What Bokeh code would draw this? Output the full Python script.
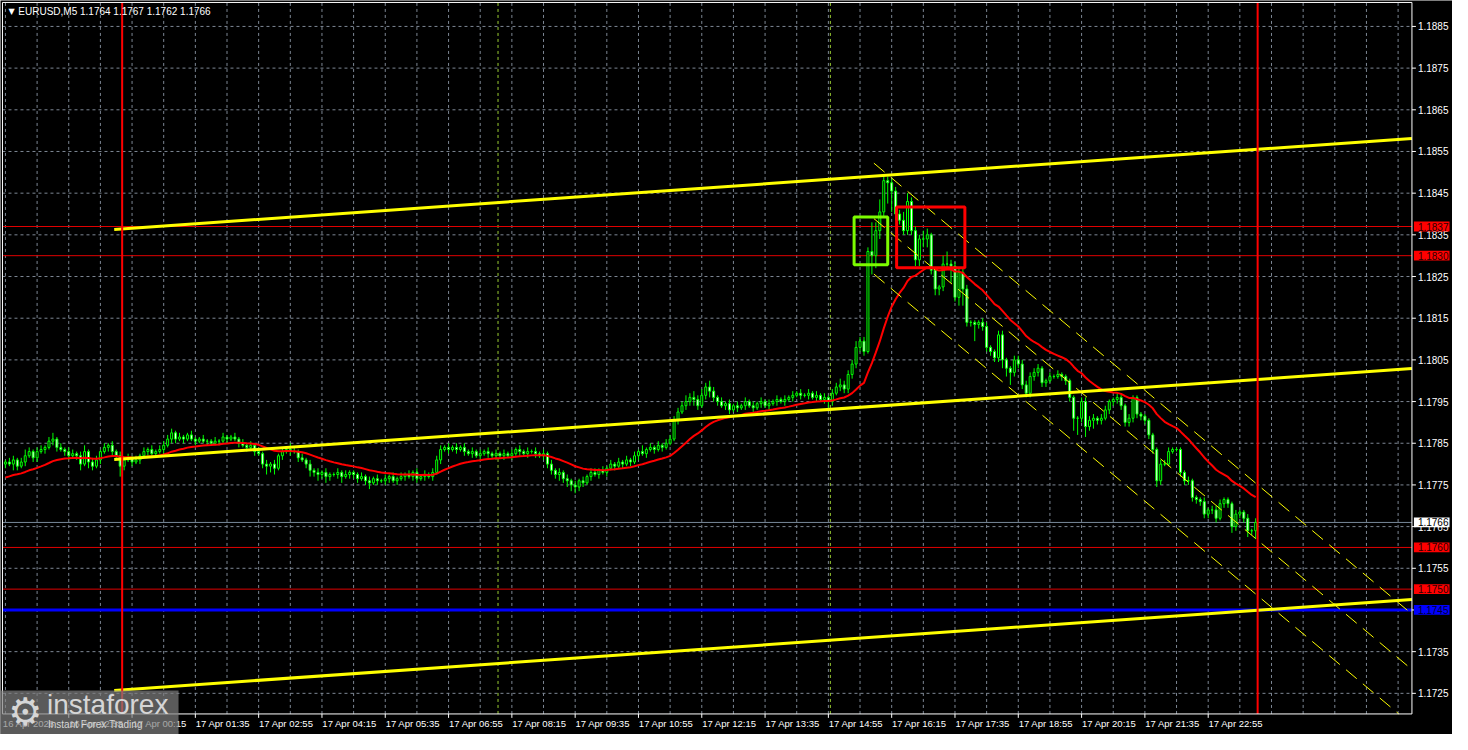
from bokeh.plotting import figure
from bokeh.models import Range1d, ColumnDataSource
from bokeh.core.properties import value
from bokeh.embed import file_html
from bokeh.resources import INLINE

# ---------------- data (prices in pips above 1.1700) ----------------
symbol_title = "EURUSD,M5"
last_ohlc = ["1.1764", "1.1767", "1.1762", "1.1766"]
base_price = 1.1700
last_bar = 287            # bar index of 17 Apr 23:55 (0 = 17 Apr 00:00)
first_open_pips = 80.0

closes_pips = [
    80.5, 80, 81, 79.5, 80.5, 82, 83, 81.5, 83, 83.5,
    84, 85.5, 86, 84, 83.5, 83, 82, 82.5, 82, 80,
    83, 80.5, 79.5, 81, 83, 84, 84.5, 83, 82,
    79.5, 81, 81.5, 80.5, 81, 82, 83, 83.5, 82.5, 83,
    83.5, 84.5, 86, 87.5, 86, 86.5, 86, 87, 86, 85.5,
    86, 85.5, 85.5, 85, 85.5, 85.5, 86.5, 86, 86.5, 86,
    85, 84.5, 84, 84.5, 83, 82.5, 80, 79.5, 80, 79,
    82, 83, 83.5, 83, 83, 81.5, 81, 80, 78.5, 78,
    77.5, 78, 77, 77.5, 77.5, 78, 77, 77.5, 78, 77.5,
    76.5, 77, 76, 75.5, 76.5, 76, 76, 76.5, 77, 76,
    76.5, 77, 77.5, 77, 78, 76.5, 77, 77.5, 77, 78,
    81, 83.5, 84, 83.5, 84, 83.5, 84, 83, 82.5, 83,
    82, 82.5, 83, 82.5, 82, 82.5, 82, 82.5, 82, 82.5,
    83.5, 83, 82.5, 83, 83, 82.5, 82, 82.5, 80, 78.5,
    77.5, 78, 76.5, 76, 75, 74.5, 76, 75.5, 77, 78,
    77.5, 78.5, 78, 79, 80, 79.5, 80.5, 80, 81, 80.5,
    82, 83, 82.5, 83.5, 84, 83.5, 84.5, 84, 85, 86,
    90.5, 92.5, 94, 95, 96, 95.5, 94, 96.5, 98.5, 97.5,
    96, 95, 94, 94.5, 93, 94, 93.5, 94, 95, 94,
    93.5, 94.5, 95, 94, 94.5, 95, 95.5, 95, 95.5, 96,
    96.5, 97, 96.5, 96.5, 97, 96, 96.5, 95.5, 96, 95,
    97, 98.5, 99, 98, 101.5,
    104, 108, 109.5, 107, 131, 130, 136, 140.5, 148, 147.5,
    145.5, 140, 138.5, 136, 143, 136, 129, 134, 134, 135,
    126.5, 122, 122.5, 128, 128, 127.5, 120, 126, 122, 114,
    114, 113.5, 114, 113, 108, 107, 105.5, 111, 105, 103,
    102, 105, 104,
    99, 97, 101, 102, 103, 99.5, 100, 101, 101, 101.5,
    101, 100, 96, 91, 91, 95, 89, 90.5, 91, 90.5,
    91, 93, 95, 95.5, 96, 94, 90, 91, 96, 92,
    91.5, 90.5, 87, 83.5, 76, 80, 80, 83, 83.5, 83.5,
    78, 76, 76, 72, 71.5, 71, 68, 69, 69, 67,
    70.5, 71.5, 70.5, 65, 68, 68.5, 67, 64, 64, 66,
]

up_wick_pips = [
    0.5, 1, 1, 0.5, 1, 1.5, 1, 0.5, 1, 1,
    0.5, 1, 1.5, 0.5, 1, 0.5, 1, 1, 0.5, 1,
    1.5, 0.5, 1, 1, 0.5, 1, 0.5, 1, 0.5,
    1, 0.5, 1, 0.5, 1, 0.5, 1, 0.5, 1, 0.5,
    1, 1, 1, 1, 0.5, 1, 0.5, 0.5, 1, 0.5,
    0.5, 1, 0.5, 0.5, 1, 0.5, 1, 0.5, 0.5, 1,
    0.5, 1, 0.5, 1, 0.5, 1, 0.5, 1, 0.5, 1,
    0.5, 1, 0.5, 1.5, 1, 0.5, 1, 0.5, 1, 0.5,
    1, 0.5, 1, 0.5, 0.5, 1, 0.5, 1, 0.5, 0.5,
    0.5, 1, 0.5, 1, 0.5, 1, 0.5, 1, 0.5, 1,
    0.5, 1, 0.5, 1, 0.5, 1, 0.5, 1, 0.5, 1,
    1, 1, 0.5, 1, 0.5, 1, 0.5, 1, 0.5, 1,
    0.5, 1, 0.5, 1, 0.5, 1, 0.5, 1, 0.5, 1,
    0.5, 1, 0.5, 1, 0.5, 1, 0.5, 1, 0.5, 1,
    0.5, 1, 0.5, 1, 0.5, 1, 0.5, 1, 0.5, 1,
    1, 0.5, 1, 0.5, 1, 0.5, 1, 0.5, 1, 0.5,
    1, 0.5, 1.5, 0.5, 1, 0.5, 1, 0.5, 1, 1,
    1, 1, 1, 1.5, 1, 1.5, 1, 1.5, 1, 1.5,
    1, 0.5, 1, 0.5, 1, 0.5, 1, 0.5, 1, 0.5,
    1, 0.5, 1, 0.5, 1, 0.5, 1, 0.5, 1, 0.5,
    1, 0.5, 1, 0.5, 1, 0.5, 1, 0.5, 1, 0.5,
    1, 1, 1.5, 1, 1,
    1, 1.5, 1, 1, 1, 7, 2, 3, 1.5, 1,
    1, 1, 1, 2, 2, 1, 1, 1, 2, 1.5,
    0.5, 0.5, 0.5, 2, 3, 1, 1, 1, 1, 1,
    0.5, 0.5, 0.5, 1, 1, 0.5, 0.5, 1, 1, 0.5,
    0.5, 1, 1,
    1, 1, 1, 1, 1, 0.5, 0.5, 1, 0.5, 1,
    0.5, 0.5, 0.5, 0.5, 0.5, 1, 1, 1, 1, 0.5,
    1, 1, 0.5, 0.5, 1, 1, 0.5, 1, 0.5, 0.5,
    0.5, 0.5, 0.5, 0.5, 0.5, 1, 1, 1, 0.5, 0.5,
    0.5, 0.5, 1, 0.5, 0.5, 0.5, 1, 0.5, 1, 1,
    1, 0.5, 0.5, 0.5, 1, 0.5, 0.5, 1, 0.5, 1,
]

down_wick_pips = [
    1, 0.5, 1.5, 1, 0.5, 1, 0.5, 1, 1, 0.5,
    1, 0.5, 1, 1, 0.5, 1, 1, 0.5, 1, 1.5,
    0.5, 1.5, 1, 0.5, 1, 0.5, 1, 1, 1,
    2.5, 1, 0.5, 1, 0.5, 1, 0.5, 1, 0.5, 1,
    0.5, 1, 0.5, 1, 1, 0.5, 1, 0.5, 0.5, 1,
    0.5, 0.5, 1, 0.5, 0.5, 1, 0.5, 1, 0.5, 0.5,
    1, 0.5, 1, 0.5, 1, 0.5, 1, 2, 1.5, 1.5,
    0.5, 1, 0.5, 1, 0.5, 1, 0.5, 1, 1.5, 1,
    1.5, 1, 1.5, 1, 0.5, 1, 1.5, 0.5, 1, 1,
    1, 0.5, 1, 1.5, 0.5, 1, 0.5, 1, 1, 0.5,
    1, 0.5, 1, 0.5, 1, 1, 0.5, 1, 0.5, 1,
    0.5, 1, 0.5, 1, 0.5, 1, 0.5, 1, 0.5, 1,
    0.5, 1, 0.5, 1, 0.5, 1, 0.5, 1, 0.5, 1,
    0.5, 1, 0.5, 1, 0.5, 1, 0.5, 1, 1, 1,
    1, 1.5, 1, 1.5, 1.5, 1.5, 1, 1, 0.5, 1,
    0.5, 1, 0.5, 1, 0.5, 1, 0.5, 1, 0.5, 1,
    0.5, 1, 0.5, 1, 0.5, 1, 0.5, 1, 0.5, 0.5,
    0.5, 1, 0.5, 1, 1, 1.5, 1, 0.5, 1, 1.5,
    1, 1, 0.5, 1, 1, 0.5, 1, 0.5, 1, 0.5,
    1, 0.5, 1, 0.5, 1, 0.5, 1, 0.5, 1, 0.5,
    1, 0.5, 1, 0.5, 1, 0.5, 1, 0.5, 1, 1.5,
    1, 0.5, 1, 1, 1,
    1, 1, 1, 1, 0.5, 4.5, 3, 2, 1, 5,
    5, 1.5, 1, 1, 1, 1, 1.5, 1.5, 2, 2,
    1, 1.5, 1.5, 1, 1, 4, 1, 2, 4, 1,
    1, 4, 1, 1, 1, 1, 1, 1, 2, 2,
    3, 1, 1,
    1, 1, 1, 1, 1, 1, 1, 0.5, 0.5, 0.5,
    1, 1, 1, 3, 4, 1, 2.5, 1, 2, 1,
    1, 0.5, 1, 1, 1, 1, 1, 1, 1, 1,
    1, 1, 1, 1, 1.5, 1, 0.5, 0.5, 0.5, 0.5,
    1, 1, 1, 1, 1, 1, 1, 1, 1, 1,
    0.5, 1, 1, 1.5, 1, 1, 1, 1.5, 1, 2,
]

ma_start_pips = 76.8      # moving average value at the left edge
ma_period = 24            # exponential MA

price_ticks = [1.1725, 1.1735, 1.1745, 1.1755, 1.1765, 1.1775, 1.1785, 1.1795,
               1.1805, 1.1815, 1.1825, 1.1835, 1.1845, 1.1855, 1.1865, 1.1875, 1.1885]
time_labels = ["16 Apr 2026", "16 Apr 22:55", "17 Apr 00:15", "17 Apr 01:35", "17 Apr 02:55",
               "17 Apr 04:15", "17 Apr 05:35", "17 Apr 06:55", "17 Apr 08:15", "17 Apr 09:35",
               "17 Apr 10:55", "17 Apr 12:15", "17 Apr 13:35", "17 Apr 14:55", "17 Apr 16:15",
               "17 Apr 17:35", "17 Apr 18:55", "17 Apr 20:15", "17 Apr 21:35", "17 Apr 22:55"]

red_levels = [1.1837, 1.1830, 1.1760, 1.1750]
blue_level = 1.1745
current_price = 1.1766

# ---------------- layout helpers (reference pixel -> data) ----------------
def bx(refx):                 # bar coordinate of a reference x pixel
    return (refx - 121) / 4.0

def py(refy):                 # price of a reference y pixel
    return 1.1885 - (refy - 26.5) / 42590.0

def pr(p):
    return base_price + p / 10000.0

CX0, CX1 = bx(2), bx(1427)    # chart area
CY0, CY1 = py(729), py(2)

def clip_seg(x0, y0, x1, y1):
    t0, t1 = 0.0, 1.0
    dx, dy = x1 - x0, y1 - y0
    for pp, qq in ((-dx, x0 - CX0), (dx, CX1 - x0), (-dy, y0 - CY0), (dy, CY1 - y0)):
        if pp == 0:
            if qq < 0:
                return None
            continue
        r = qq / pp
        if pp < 0:
            t0 = max(t0, r)
        else:
            t1 = min(t1, r)
    if t0 > t1:
        return None
    return x0 + t0 * dx, y0 + t0 * dy, x0 + t1 * dx, y0 + t1 * dy

# ---------------- derived series ----------------
n = min(len(closes_pips), len(up_wick_pips), len(down_wick_pips))
closes = closes_pips[:n]
xs = [last_bar - (n - 1) + k for k in range(n)]
opens = [first_open_pips] + closes[:-1]
highs = [max(o, c) + u for o, c, u in zip(opens, closes, up_wick_pips[:n])]
lows = [min(o, c) - d for o, c, d in zip(opens, closes, down_wick_pips[:n])]
fills = ["white" if c < o else "black" for o, c in zip(opens, closes)]

src = ColumnDataSource(dict(
    x=xs,
    top=[pr(max(o, c)) for o, c in zip(opens, closes)],
    bottom=[pr(min(o, c)) for o, c in zip(opens, closes)],
    high=[pr(h) for h in highs],
    low=[pr(l) for l in lows],
    fill=fills,
))

alpha = 2.0 / (ma_period + 1)
ema = [ma_start_pips]
for c in closes[1:]:
    ema.append(ema[-1] + alpha * (c - ema[-1]))

# ---------------- figure ----------------
p = figure(width=1452, height=734, x_range=Range1d(bx(0), bx(1468)),
           y_range=Range1d(py(750), py(0)),
           x_axis_location=None, y_axis_location=None,
           output_backend="svg", toolbar_location=None,
           background_fill_color="black", border_fill_color="black",
           min_border=0, outline_line_color=None)
p.grid.visible = False

FONT = value("Liberation Sans")
GRID = "#7d8794"

# grid
gx = [3 + 8 * k for k in range(-4, 41) if CX0 < 3 + 8 * k < CX1]
p.segment(x0=gx, y0=[CY0] * len(gx), x1=gx, y1=[CY1] * len(gx),
          line_color=GRID, line_dash="3 3", line_width=1)
p.segment(x0=[CX0] * len(price_ticks), y0=price_ticks, x1=[CX1] * len(price_ticks),
          y1=price_ticks, line_color=GRID, line_dash="3 3", line_width=1)

# session marker lines (08:00 and 15:00)
for xv in (95.5, 179.5):
    p.segment(x0=[xv], y0=[CY0], x1=[xv], y1=[CY1], line_color="#9acd32",
              line_dash="3 3", line_width=1)

# horizontal levels
for lv in red_levels:
    p.segment(x0=[CX0], y0=[lv], x1=[CX1], y1=[lv], line_color="#e00000", line_width=1)
p.segment(x0=[CX0], y0=[current_price], x1=[CX1], y1=[current_price],
          line_color="#778899", line_width=1)
p.segment(x0=[CX0], y0=[blue_level], x1=[CX1], y1=[blue_level],
          line_color="#0000ff", line_width=3)

# candles
p.segment(x0="x", y0="high", x1="x", y1="low", source=src, line_color="#00ff00", line_width=1)
p.vbar(x="x", top="top", bottom="bottom", width=0.5, source=src,
       fill_color="fill", line_color="#00ff00", line_width=1)

# moving average
p.line(xs, [pr(v) for v in ema], line_color="#ff0000", line_width=2)

# rising trend channel (thick yellow)
t_start, t_slope = -1.5, 0.0665
for lvl in (136.3, 81.1, 25.7):
    s = clip_seg(t_start, pr(lvl), CX1, pr(lvl + t_slope * (CX1 - t_start)))
    if s:
        p.line([s[0], s[2]], [s[1], s[3]], line_color="#ffff00", line_width=3)

# falling regression channel (thin dashed yellow)
r_start, r_slope, r_mid, r_half = 190.5, -0.7955, 138.9, 13.3
for off in (r_half, 0, -r_half):
    s = clip_seg(r_start, pr(r_mid + off), CX1, pr(r_mid + off + r_slope * (CX1 - r_start)))
    if s:
        p.line([s[0], s[2]], [s[1], s[3]], line_color="#ffff00", line_width=1,
               line_dash="14 8")

# signal boxes
p.quad(left=[185.5], right=[194.0], bottom=[pr(127.8)], top=[pr(139.3)],
       fill_alpha=0, line_color="#7cfc00", line_width=3)
p.quad(left=[196.25], right=[213.5], bottom=[pr(127.1)], top=[pr(141.7)],
       fill_alpha=0, line_color="#ff0000", line_width=3)

# day separators
for xv in (0.5, 287.5):
    p.segment(x0=[xv], y0=[CY0], x1=[xv], y1=[CY1], line_color="#ff0000", line_width=2)

# chart frame
p.line([CX0, CX1, CX1, CX0, CX0], [CY0, CY0, CY1, CY1, CY0], line_color="white", line_width=1)

# time scale
tick_x = [CX0] + [-13 + 16 * k for k in range(19)]
p.segment(x0=tick_x[1:], y0=[CY0] * (len(tick_x) - 1), x1=tick_x[1:],
          y1=[py(733)] * (len(tick_x) - 1), line_color="white", line_width=1)
p.text(x=[t + 0.1 for t in tick_x], y=[py(739)] * len(tick_x), text=time_labels,
       text_font=FONT, text_font_size=value("9.5px"), text_color="white",
       text_align="left", text_baseline="middle")

# price scale
p.segment(x0=[CX1] * len(price_ticks), y0=price_ticks, x1=[bx(1431)] * len(price_ticks),
          y1=price_ticks, line_color="white", line_width=1)
p.text(x=[bx(1433)] * len(price_ticks), y=price_ticks,
       text=[f"{t:.4f}" for t in price_ticks],
       text_font=FONT, text_font_size=value("10px"), text_color="white",
       text_align="left", text_baseline="middle")

# price tags
tags = [(1.1837, "#ff0000", "#2a0000"), (1.1830, "#ff0000", "#2a0000"),
        (current_price, "#ffffff", "#000000"), (1.1760, "#ff0000", "#2a0000"),
        (1.1750, "#ff0000", "#2a0000"), (blue_level, "#0000ff", "#000030")]
half_h = 5.0 / 42590.0
p.quad(left=[bx(1429)] * len(tags), right=[bx(1465)] * len(tags),
       bottom=[t[0] - half_h for t in tags], top=[t[0] + half_h for t in tags],
       fill_color=[t[1] for t in tags], line_color=None)
p.text(x=[bx(1433)] * len(tags), y=[t[0] for t in tags],
       text=[f"{t[0]:.4f}" for t in tags], text_color=[t[2] for t in tags],
       text_font=FONT, text_font_size=value("10px"),
       text_align="left", text_baseline="middle")

# title
p.text(x=[bx(8)], y=[py(11)], text=["\u25bc"], text_font=value("DejaVu Sans"),
       text_font_size=value("8px"), text_color="white", text_align="left",
       text_baseline="middle")
p.text(x=[bx(18)], y=[py(11)],
       text=[symbol_title + "  " + " ".join(last_ohlc)],
       text_font=FONT, text_font_size=value("10px"), text_color="white",
       text_align="left", text_baseline="middle")

# watermark
p.quad(left=[bx(0)], right=[bx(180)], bottom=[py(750)], top=[py(705)],
       fill_color="#808080", fill_alpha=0.7, line_color=None)
p.text(x=[bx(25)], y=[py(727)], text=["\u2699"], text_font=value("DejaVu Sans"),
       text_font_size=value("38px"), text_color="#d6d6d6",
       text_align="center", text_baseline="middle")
p.text(x=[bx(47)], y=[py(719)], text=["instaforex"], text_font=FONT,
       text_font_size=value("28px"), text_color="#d6d6d6",
       text_align="left", text_baseline="middle")
p.text(x=[bx(48)], y=[py(740)], text=["Instant Forex Trading"], text_font=FONT,
       text_font_size=value("10px"), text_color="#d6d6d6",
       text_align="left", text_baseline="middle")

open("out.html", "w").write(file_html(p, INLINE))
